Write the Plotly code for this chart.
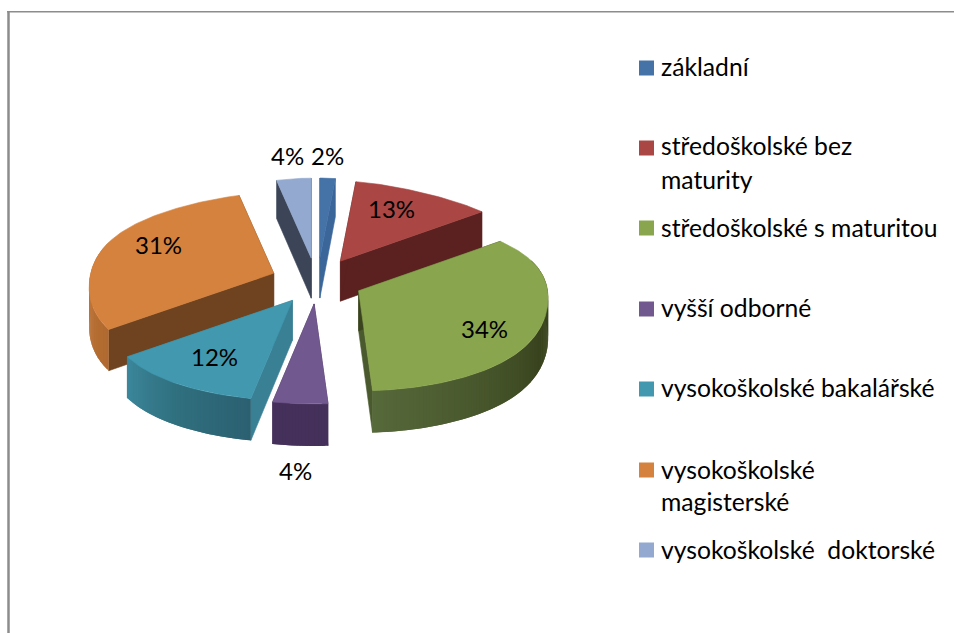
import numpy as np
import plotly.graph_objects as go

categories = ["základní", "středoškolské bez maturity", "středoškolské s maturitou", "vyšší odborné",
              "vysokoškolské bakalářské", "vysokoškolské magisterské", "vysokoškolské  doktorské"]
values = [2, 13, 34, 4, 12, 31, 4]
legend_lines = [["základní"], ["středoškolské bez", "maturity"], ["středoškolské s maturitou"], ["vyšší odborné"],
                ["vysokoškolské bakalářské"], ["vysokoškolské", "magisterské"], ["vysokoškolské  doktorské"]]

top_colors = ["#4572A7", "#AA4643", "#89A54E", "#71588F", "#4198AF", "#D5823E", "#93A9CF"]
start_face = ["#3A669A", "#5A2120", "#3A451F", "#44305A", "#3A8095", "#6F431F", "#3C4558"]
end_face = ["#3A669A", "#5A2120", "#4A5A2E", "#44305A", "#337A8B", "#6F431F", "#3C4558"]
rim_start = ["#3A669A", "#5A2120", "#39441E", "#44305A", "#2B6071", "#B06A30", "#3C4558"]
rim_mid = ["#3A669A", "#5A2120", "#39441E", "#44305A", "#30707F", "#C47A3A", "#3C4558"]
rim_end = ["#3A669A", "#5A2120", "#56693A", "#44305A", "#3C879C", "#C47A3A", "#3C4558"]

draw_order = [6, 0, 1, 5, 2, 4, 3]
label_pos = [(327, 157), (391, 210), (484, 330), (295, 472), (214, 358), (158, 246), (287, 157)]
legend_y = [[68], [147, 181], [229], [309], [389], [471, 503], [551]]
marker_y = [68, 148, 228, 309, 389, 470, 550]

CX, CY = 317, 281
EX, EY = 46, 23
rx_right = np.polyfit([-1, -0.588, 0, 0.588, 1], [122, 175, 189, 205, 222], 4)
rx_left = np.polyfit([-1, -0.588, 0, 0.588, 1], [135, 170, 183, 204, 222], 4)


def project(ang, ax, ay):
    X, Y = np.sin(ang), -np.cos(ang)
    rx = np.where(X >= 0, np.polyval(rx_right, Y), np.polyval(rx_left, Y))
    return ax + X * rx, ay + 90 * Y + 10 * Y ** 2


def depth(ang):
    return 40 - 2 * np.cos(ang)


def lerp(c1, c2, t):
    a = [int(c1[i:i + 2], 16) for i in (1, 3, 5)]
    b = [int(c2[i:i + 2], 16) for i in (1, 3, 5)]
    return "rgb(%d,%d,%d)" % tuple(round(p + (q - p) * t) for p, q in zip(a, b))


fig = go.Figure()


def poly(xs, ys, color, width=0.6):
    fig.add_trace(go.Scatter(x=list(xs) + [xs[0]], y=list(ys) + [ys[0]], mode="lines", fill="toself",
                             fillcolor=color, line=dict(color=color, width=width), hoverinfo="skip",
                             showlegend=False))


edges = np.cumsum([0] + values) / sum(values) * 2 * np.pi
for i in draw_order:
    a0, a1 = edges[i], edges[i + 1]
    mid = (a0 + a1) / 2
    ax, ay = CX + EX * np.sin(mid), CY - EY * np.cos(mid)
    angs = np.linspace(a0, a1, max(8, values[i] * 4 + 2))
    px, py = project(angs, ax, ay)
    dz = depth(angs)
    poly([ax, px[-1], px[-1], ax], [ay, py[-1], py[-1] + dz[-1], ay + 40], end_face[i])
    poly([ax, px[0], px[0], ax], [ay, py[0], py[0] + dz[0], ay + 40], start_face[i])
    n = len(angs) - 1
    for k in range(n):
        t = (k + 0.5) / n
        col = lerp(rim_start[i], rim_mid[i], t * 2) if t < 0.5 else lerp(rim_mid[i], rim_end[i], t * 2 - 1)
        if np.cos((angs[k] + angs[k + 1]) / 2) < 0.35:
            j = min(k + 2, n)  # overlap the following segment so no seams show
            sx, sy, sz = px[k:j + 1], py[k:j + 1], dz[k:j + 1]
            poly(list(sx) + list(sx[::-1]), list(sy) + list((sy + sz)[::-1]), col, width=0)
    poly([ax] + list(px), [ay] + list(py), top_colors[i])

FONT = "Lato"
annotations = []
for v, (x, y) in zip(values, label_pos):
    annotations.append(dict(x=x, y=y, yshift=2, text=f"{v}%", showarrow=False,
                            font=dict(family=FONT, size=24, color="#000")))
for lines, ys in zip(legend_lines, legend_y):
    for t, y in zip(lines, ys):
        annotations.append(dict(x=659, y=y, yshift=2, text=t, showarrow=False, xanchor="left",
                                font=dict(family=FONT, size=24.7, color="#000")))

fig.add_trace(go.Scatter(x=[646.5] * len(marker_y), y=marker_y, mode="markers",
                         marker=dict(symbol="square", size=15, color=top_colors, line=dict(width=0)),
                         hoverinfo="skip", showlegend=False))

shapes = [
    dict(type="line", x0=7, x1=954, y0=11.7, y1=11.7, line=dict(color="#8C8C8C", width=1.5)),
    dict(type="line", x0=8.5, x1=8.5, y0=11, y1=633, line=dict(color="#8C8C8C", width=2.5)),
]

fig.update_layout(width=954, height=633, margin=dict(l=0, r=0, t=0, b=0), paper_bgcolor="white",
                  plot_bgcolor="white", showlegend=False, annotations=annotations, shapes=shapes,
                  xaxis=dict(range=[0, 954], visible=False, fixedrange=True),
                  yaxis=dict(range=[633, 0], visible=False, fixedrange=True))
fig.write_html("out.html", config=dict(displayModeBar=False),
               post_script="document.body.style.margin='0';document.body.style.overflow='hidden';")
